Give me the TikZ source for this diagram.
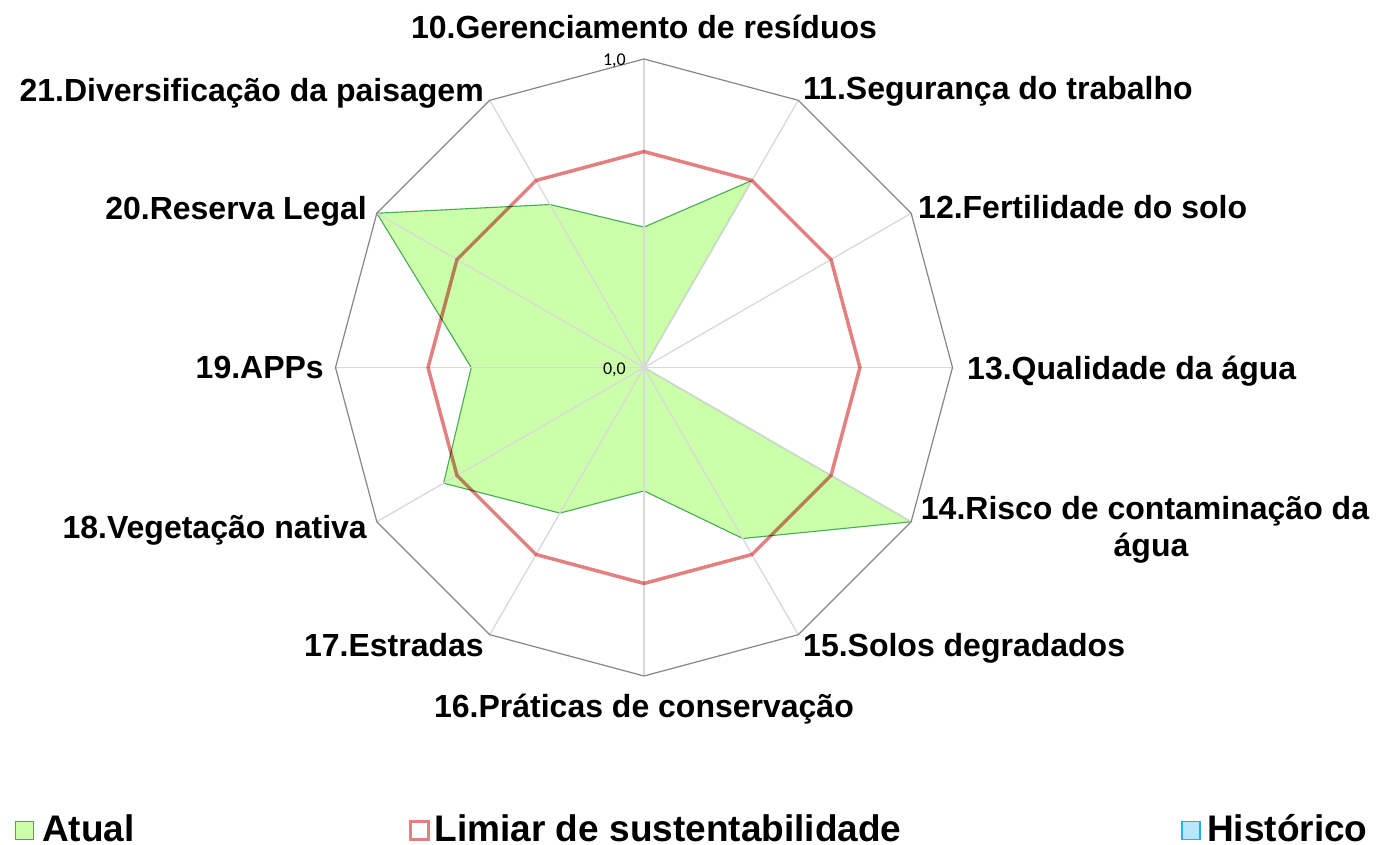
\documentclass[tikz,border=0pt]{standalone}
\usepackage{fontspec}
\setmainfont{Liberation Sans}
\newfontfamily\smallfont{Carlito}
\definecolor{atualfill}{RGB}{204,255,170}
\definecolor{atualline}{RGB}{70,172,85}
\definecolor{limiarred}{RGB}{228,128,128}
\definecolor{outergray}{RGB}{134,134,134}
\definecolor{spokegray}{RGB}{217,217,217}
\definecolor{histfill}{RGB}{184,230,250}
\definecolor{histline}{RGB}{40,175,230}
\begin{document}
\begin{tikzpicture}[x=1pt,y=-1pt,
  spoke/.style={draw=spokegray,line width=1.3pt},
  outerline/.style={draw=outergray,line width=1.2pt,line join=round},
  limiar/.style={draw=limiarred,line width=3.5pt,line join=round},
  atualarea/.style={fill=atualfill},
  atualborder/.style={draw=atualline,line width=1.1pt,line join=round},
  axlabel/.style={font=\bfseries\fontsize{32}{37}\selectfont,inner sep=0pt},
  ticklabel/.style={font=\smallfont\fontsize{18}{20}\selectfont,inner sep=0pt},
  legtext/.style={font=\bfseries\fontsize{37}{40}\selectfont,inner sep=0pt,anchor=base west},
  legbox/.style={minimum size=18pt,inner sep=0pt,line width=1.6pt}
]
\useasboundingbox (0,0) rectangle (1377,845);
\fill[white] (0,0) rectangle (1377,845);
\coordinate (O) at (644,367.5);
\def\R{308.5}
\foreach \k/\g in {10/0.455,11/0.70,12/0,13/0,14/1.0,15/0.64,16/0.40,17/0.545,18/0.75,19/0.56,20/1.0,21/0.61}{
  \pgfmathsetmacro\ang{30*\k-390}
  \pgfmathsetmacro\cx{cos(\ang)}
  \pgfmathsetmacro\sy{sin(\ang)}
  \coordinate (v\k) at ({644+\R*\cx},{367.5+\R*\sy});
  \coordinate (r\k) at ({644+0.70*\R*\cx},{367.5+0.70*\R*\sy});
  \coordinate (g\k) at ({644+\g*\R*\cx},{367.5+\g*\R*\sy});
}
% Atual area
\fill[atualarea] (g10) -- (g11) -- (g12) -- (g13) -- (g14) -- (g15) -- (g16) -- (g17) -- (g18) -- (g19) -- (g20) -- (g21) -- cycle;
\draw[atualborder] (g10) -- (g11) -- (g12) -- (g13) -- (g14) -- (g15) -- (g16) -- (g17) -- (g18) -- (g19) -- (g20) -- (g21) -- cycle;
% spokes
\foreach \k in {10,...,21}{ \draw[spoke] (O) -- (v\k); }
% outer polygon
\draw[outerline] (v10) -- (v11) -- (v12) -- (v13) -- (v14) -- (v15) -- (v16) -- (v17) -- (v18) -- (v19) -- (v20) -- (v21) -- cycle;
% threshold
\begin{scope}[blend mode=multiply]
\draw[limiar] (r10) -- (r11) -- (r12) -- (r13) -- (r14) -- (r15) -- (r16) -- (r17) -- (r18) -- (r19) -- (r20) -- (r21) -- cycle;
\end{scope}
% tick labels
\node[ticklabel,anchor=base east] (t1) at (626,65.3) {1,0};
\node[ticklabel,anchor=base east] (t0) at (626,374) {0,0};
% axis labels
\node[axlabel,anchor=base] (l10) at (644,38.5) {10.Gerenciamento de resíduos};
\node[axlabel,anchor=base west] (l11) at (803,99.5) {11.Segurança do trabalho};
\node[axlabel,anchor=base west] (l12) at (918,218.5) {12.Fertilidade do solo};
\node[axlabel,anchor=base west] (l13) at (967,379) {13.Qualidade da água};
\node[axlabel,anchor=base] (l14a) at (1145,519.3) {14.Risco de contaminação da};
\node[axlabel,anchor=base] (l14b) at (1151,556) {água};
\node[axlabel,anchor=base west] (l15) at (803,656.5) {15.Solos degradados};
\node[axlabel,anchor=base] (l16) at (644,717.5) {16.Práticas de conservação};
\node[axlabel,anchor=base east] (l17) at (484,656.5) {17.Estradas};
\node[axlabel,anchor=base east] (l18) at (367,538.5) {18.Vegetação nativa};
\node[axlabel,anchor=base east] (l19) at (324,378.5) {19.APPs};
\node[axlabel,anchor=base east] (l20) at (367,219.5) {20.Reserva Legal};
\node[axlabel,anchor=base east] (l21) at (484,101.5) {21.Diversificação da paisagem};
% legend
\node[legbox,draw=atualline,fill=atualfill] (k1) at (24.5,830.5) {};
\node[legtext] (k1t) at (42,841) {Atual};
\node[legbox,draw=limiarred,fill=white,line width=2.6pt,minimum size=17.5pt] (k2) at (419.5,830.5) {};
\node[legtext] (k2t) at (434.5,841) {Limiar de sustentabilidade};
\node[legbox,draw=histline,fill=histfill] (k3) at (1191,830.5) {};
\node[legtext] (k3t) at (1207,841) {Histórico};
\end{tikzpicture}
\end{document}
